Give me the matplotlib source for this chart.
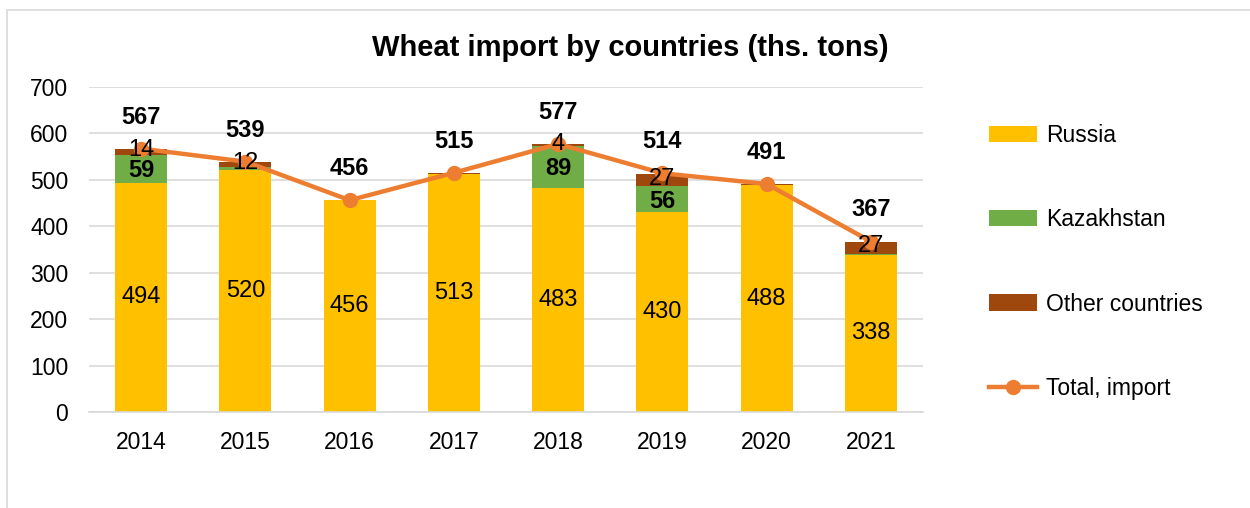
import matplotlib.pyplot as plt
import numpy as np
from matplotlib.patches import Rectangle

plt.rcParams['font.family'] = ['Liberation Sans', 'DejaVu Sans']

years = ['2014', '2015', '2016', '2017', '2018', '2019', '2020', '2021']
russia = [494, 520, 456, 513, 483, 430, 488, 338]
kazakhstan = [59, 7, 0, 0, 89, 56, 0, 2]
other = [14, 12, 0, 2, 4, 27, 3, 27]
total = [567, 539, 456, 515, 577, 514, 491, 367]

# which segment values get a label
kz_labels = [59, None, None, None, 89, 56, None, None]
other_labels = [14, 12, None, None, 4, 27, None, 27]

c_russia = '#FFC000'
c_kz = '#70AD47'
c_other = '#9E480E'
c_total = '#ED7D31'

fig = plt.figure(figsize=(12.5, 5.08), dpi=100)
ax = fig.add_axes([0.0712, 0.189, 0.6672, 0.64])

x = np.arange(len(years))
w = 0.5
russia = np.array(russia)
kazakhstan = np.array(kazakhstan)
other = np.array(other)

b1 = ax.bar(x, russia, w, color=c_russia, label='Russia', zorder=2)
b2 = ax.bar(x, kazakhstan, w, bottom=russia, color=c_kz, label='Kazakhstan', zorder=2)
b3 = ax.bar(x, other, w, bottom=russia + kazakhstan, color=c_other,
            label='Other countries', zorder=2)
ln, = ax.plot(x, total, color=c_total, lw=3.2, marker='o', ms=10,
              label='Total, import', zorder=3)

fs = 17
for i in range(len(years)):
    ax.text(x[i], russia[i] / 2, str(russia[i]), ha='center', va='center',
            fontsize=fs, zorder=4)
    if kz_labels[i] is not None:
        ax.text(x[i], russia[i] + kazakhstan[i] / 2 - 4, str(kz_labels[i]),
                ha='center', va='center', fontsize=fs, fontweight='bold', zorder=4)
    if other_labels[i] is not None:
        ax.text(x[i], russia[i] + kazakhstan[i] + other[i] / 2 + 3, str(other_labels[i]),
                ha='center', va='center', fontsize=fs, zorder=4)
    ax.text(x[i], total[i] + 68, str(total[i]), ha='center', va='center',
            fontsize=fs, fontweight='bold', zorder=4)

ax.set_ylim(0, 700)
ax.set_xlim(-0.5, len(years) - 0.5)
ax.set_yticks(range(0, 701, 100))
ax.set_xticks(x)
ax.set_xticklabels(years)
ax.tick_params(axis='both', length=0, labelsize=16.5, pad=14)
ax.tick_params(axis='y', pad=15)
ax.grid(axis='y', color='#D9D9D9', lw=1.2, zorder=0)
for s in ['top', 'right', 'left']:
    ax.spines[s].set_visible(False)
ax.spines['bottom'].set_color('#D9D9D9')
ax.spines['bottom'].set_linewidth(1.2)

fig.text(0.504, 0.905, 'Wheat import by countries (ths. tons)', ha='center',
         va='center', fontsize=21, fontweight='bold')

ax.legend([b1, b2, b3, ln], ['Russia', 'Kazakhstan', 'Other countries', 'Total, import'],
          loc='upper left', bbox_to_anchor=(1.068, 0.915), frameon=False,
          fontsize=16.5, labelspacing=2.68, handlelength=2.1,
          handleheight=0.7, handletextpad=0.4, borderaxespad=0)

fig.patches.append(Rectangle((0.0056, -0.01), 1.0, 0.99, transform=fig.transFigure,
                             fill=False, edgecolor='#D9D9D9', lw=1.2))

fig.savefig('out.png', dpi=100)
